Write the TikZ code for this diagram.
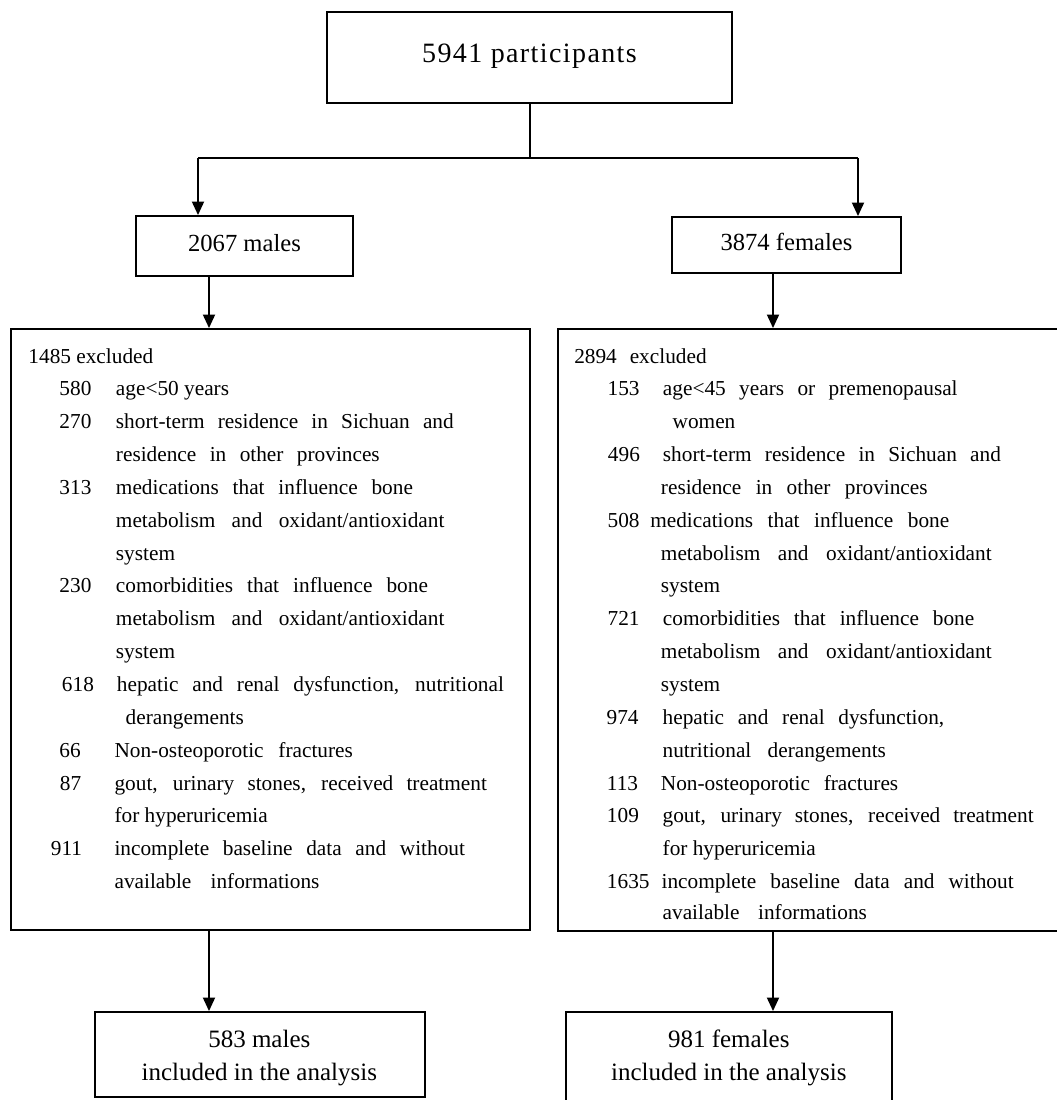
\documentclass[tikz,border=0pt]{standalone}
\usepackage{fontspec}
\setmainfont{Liberation Serif}
\usetikzlibrary{arrows.meta}
\newcommand\jtxt[5]{\node[txt] (#1) at (#2,363+32.85*#3) {\makebox[#4pt][s]{#5}};}
\newcommand\ntxt[4]{\node[txt] (#1) at (#2,363+32.85*#3) {#4};}
\begin{document}
\begin{tikzpicture}[x=1pt,y=-1pt,line width=1.9pt,
  box/.style={draw,inner sep=0pt,text height=17pt,text depth=7pt},
  txt/.style={inner sep=0pt,anchor=base west,font=\fontsize{21.3}{25}\selectfont},
  mtxt/.style={inner sep=0pt,anchor=base,font=\fontsize{25}{30}\selectfont},
  arr/.style={-{Triangle[length=13.5pt,width=12pt]}}]
\useasboundingbox (0,0) rectangle (1057,1100);
\fill[white] (0,0) rectangle (1057,1100);

% boxes
\node[box,minimum width=405pt,minimum height=91pt,font=\fontsize{28}{30}\selectfont\addfontfeature{LetterSpace=5}] (top) at (529.5,57.5) {5941 participants};
\node[box,minimum width=217pt,minimum height=60pt,font=\fontsize{24.6}{30}\selectfont] (males) at (244.5,246) {2067 males};
\node[box,minimum width=229pt,minimum height=56pt,font=\fontsize{24.6}{30}\selectfont] (females) at (786.5,245) {3874 females};
\node[draw,inner sep=0pt,minimum width=519pt,minimum height=601pt] (exm) at (270.5,629.5) {};
\node[draw,inner sep=0pt,minimum width=504pt,minimum height=602pt] (exf) at (810,630) {};
\node[draw,inner sep=0pt,minimum width=330pt,minimum height=85pt] (inm) at (260,1054.5) {};
\node[draw,inner sep=0pt,minimum width=326pt,minimum height=92pt] (inf) at (729,1058) {};

% connectors
\coordinate (j) at (530,158);
\coordinate (jl) at (198,158);
\coordinate (jr) at (858,158);
\coordinate (ml) at (209,0);
\coordinate (fl) at (773,0);
\draw (top.south -| j) -- (j);
\draw (jl) -- (jr);
\draw[arr] (jl) -- (jl |- males.north);
\draw[arr] (jr) -- (jr |- females.north);
\draw[arr] (ml |- males.south) -- (ml |- exm.north);
\draw[arr] (fl |- females.south) -- (fl |- exf.north);
\draw[arr] (ml |- exm.south) -- (ml |- inm.north);
\draw[arr] (fl |- exf.south) -- (fl |- inf.north);

% left list
\ntxt{lA}{27.5}{0}{1485 excluded}
\ntxt{lB}{58.5}{1}{580}
\ntxt{lBt}{115}{1}{age<50 years}
\ntxt{lC}{58.5}{2}{270}
\jtxt{lCt}{115}{2}{337.8}{short-term residence in Sichuan and}
\jtxt{lCu}{115}{3}{263.8}{residence in other provinces}
\ntxt{lD}{58.5}{4}{313}
\jtxt{lDt}{115}{4}{297}{medications that influence bone}
\jtxt{lDu}{115}{5}{328.5}{metabolism and oxidant/antioxidant}
\ntxt{lDv}{115}{6}{system}
\ntxt{lE}{58.5}{7}{230}
\jtxt{lEt}{115}{7}{312}{comorbidities that influence bone}
\jtxt{lEu}{115}{8}{328.5}{metabolism and oxidant/antioxidant}
\ntxt{lEv}{115}{9}{system}
\ntxt{lF}{61}{10}{618}
\jtxt{lFt}{116}{10}{387}{hepatic and renal dysfunction, nutritional}
\ntxt{lFu}{124.7}{11}{derangements}
\ntxt{lG}{58.5}{12}{66}
\jtxt{lGt}{113.6}{12}{238.4}{Non-osteoporotic fractures}
\ntxt{lH}{59}{13}{87}
\jtxt{lHt}{113.6}{13}{372.4}{gout, urinary stones, received treatment}
\ntxt{lHu}{113.6}{14}{for hyperuricemia}
\ntxt{lI}{50}{15}{911}
\jtxt{lIt}{113.6}{15}{350.4}{incomplete baseline data and without}
\jtxt{lIu}{113.6}{16}{204.9}{available informations}

% right list
\jtxt{rA}{573.3}{0}{132.4}{2894 excluded}
\ntxt{rB}{606.7}{1}{153}
\jtxt{rBt}{662}{1}{294.7}{age<45 years or premenopausal}
\ntxt{rBu}{671.7}{2}{women}
\ntxt{rC}{607}{3}{496}
\jtxt{rCt}{662}{3}{338}{short-term residence in Sichuan and}
\jtxt{rCu}{660}{4}{266.7}{residence in other provinces}
\ntxt{rD}{606.7}{5}{508}
\jtxt{rDt}{649.3}{5}{299}{medications that influence bone}
\jtxt{rDu}{660}{6}{330.7}{metabolism and oxidant/antioxidant}
\ntxt{rDv}{660}{7}{system}
\ntxt{rE}{606.7}{8}{721}
\jtxt{rEt}{662}{8}{311.3}{comorbidities that influence bone}
\jtxt{rEu}{660}{9}{330.7}{metabolism and oxidant/antioxidant}
\ntxt{rEv}{660}{10}{system}
\ntxt{rF}{605.7}{11}{974}
\jtxt{rFt}{661.7}{11}{281.6}{hepatic and renal dysfunction,}
\jtxt{rFu}{661.7}{12}{223.3}{nutritional derangements}
\ntxt{rG}{606}{13}{113}
\jtxt{rGt}{660}{13}{237.3}{Non-osteoporotic fractures}
\ntxt{rH}{606}{14}{109}
\jtxt{rHt}{661.7}{14}{371}{gout, urinary stones, received treatment}
\ntxt{rHu}{661.7}{15}{for hyperuricemia}
\ntxt{rI}{606}{16}{1635}
\jtxt{rIt}{660.7}{16}{352}{incomplete baseline data and without}
\jtxt{rIu}{661.7}{16.95}{204.3}{available informations}

% bottom texts
\node[mtxt] (inmA) at (259.3,1047) {583 males};
\node[mtxt] (inmB) at (259.3,1080) {included in the analysis};
\node[mtxt] (infA) at (728.8,1047) {981 females};
\node[mtxt] (infB) at (728.8,1080) {included in the analysis};
\end{tikzpicture}
\end{document}
